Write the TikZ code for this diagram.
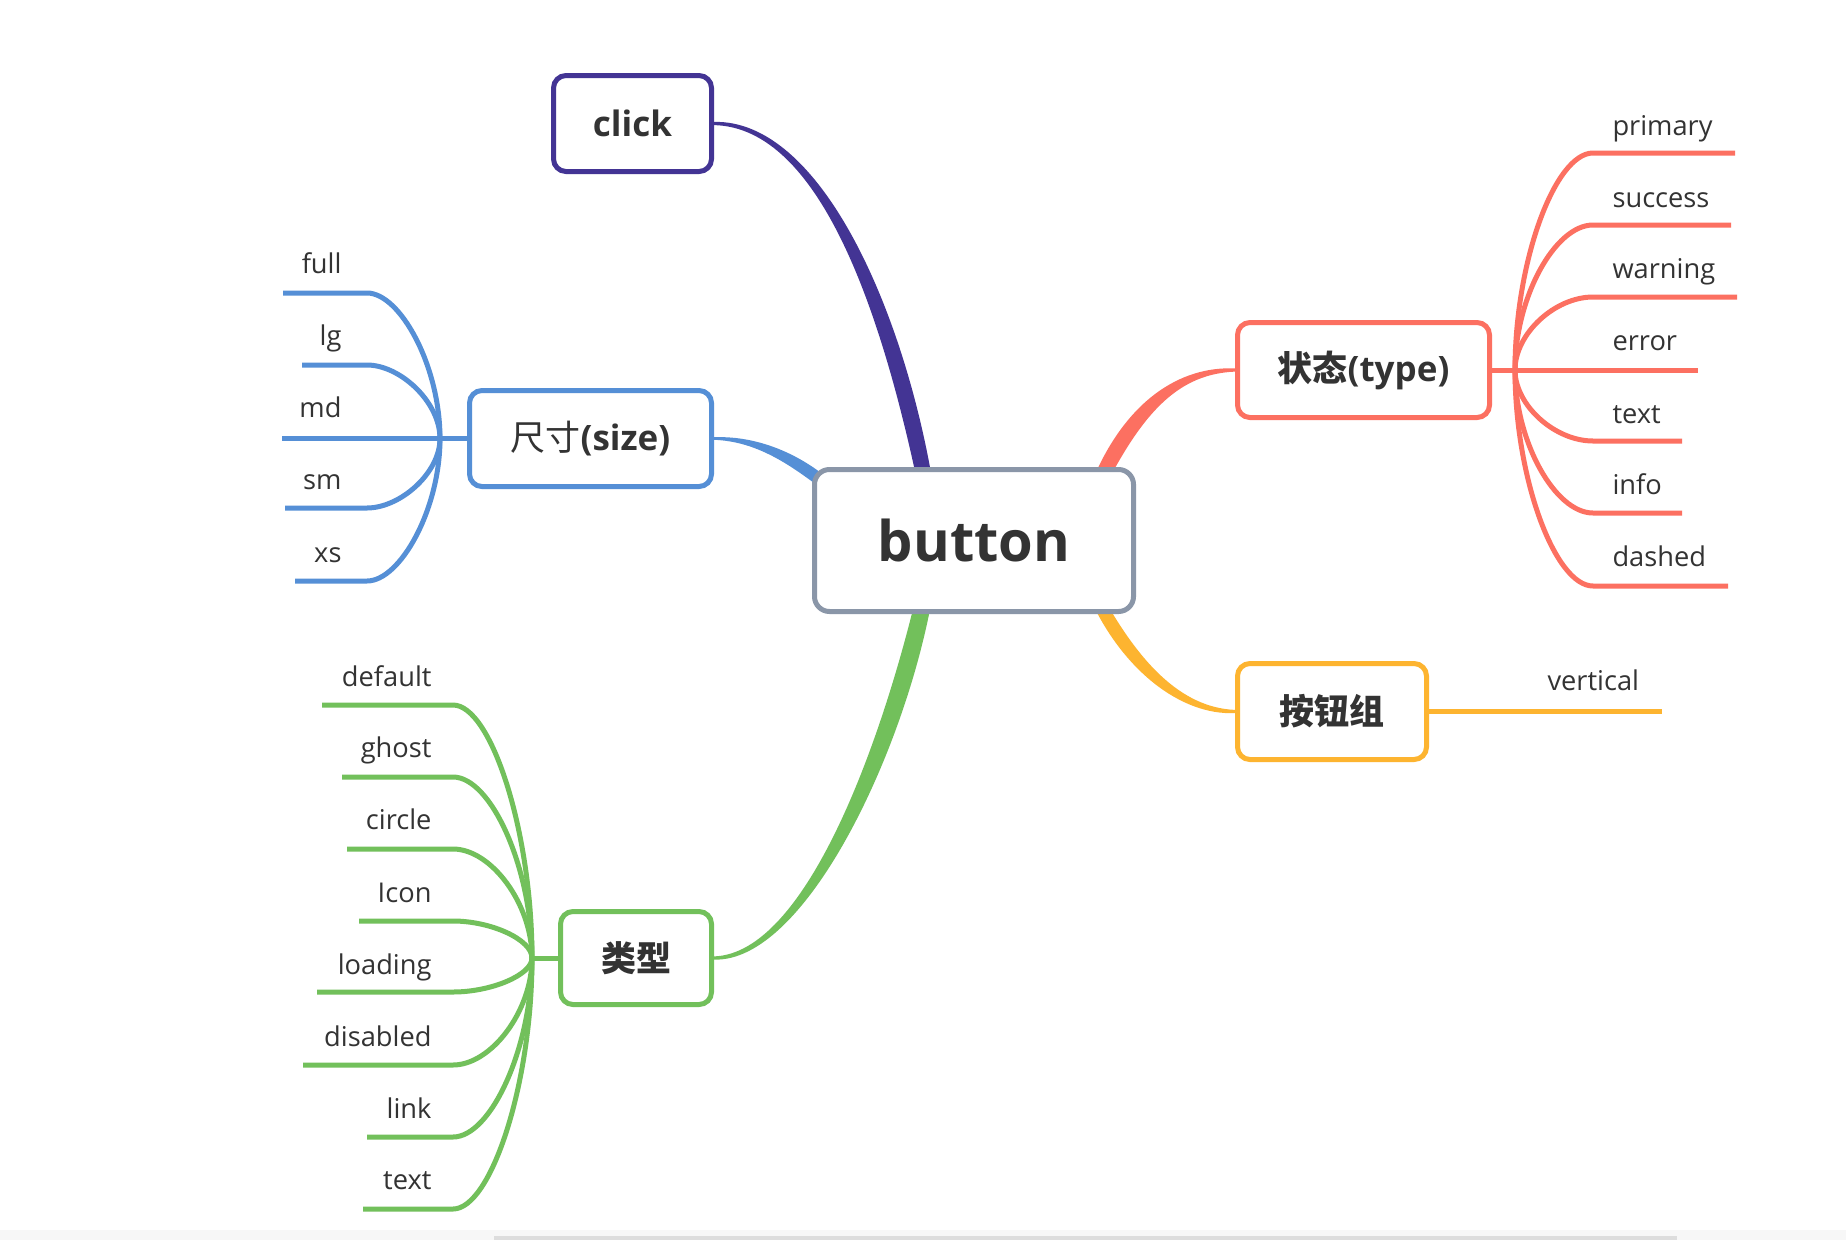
\documentclass[tikz,border=0pt]{standalone}
\usepackage{fontspec}
\setmainfont{Open Sans}
\newfontfamily\cjk{Noto Sans CJK SC}
\usetikzlibrary{calc}
\definecolor{cpurple}{RGB}{67,52,148}
\definecolor{cblue}{RGB}{85,143,214}
\definecolor{cred}{RGB}{252,112,97}
\definecolor{corange}{RGB}{253,180,48}
\definecolor{cgreen}{RGB}{114,192,91}
\definecolor{cgray}{RGB}{138,150,168}
\definecolor{txt}{RGB}{51,51,51}
\definecolor{strip}{RGB}{247,247,247}
\definecolor{stripline}{RGB}{221,221,221}
\pgfdeclarelayer{back}
\pgfsetlayers{back,main}
\tikzset{
  topic/.style={draw, line width=2pt, rounded corners=5pt, fill=white, inner sep=0pt,
    text=txt, font=\fontsize{14}{16}\selectfont\bfseries, align=center},
  leaf/.style={inner sep=0pt, text=txt, font=\fontsize{10.9}{12}\selectfont},
  twig/.style={line width=2pt},
}
\begin{document}
\begin{tikzpicture}[x=0.4pt,y=-0.4pt]
\useasboundingbox (0,0) rectangle (1846,1240);
\begin{pgfonlayer}{back}
\fill[white] (0,0) rectangle (1846,1240);
\fill[strip] (0,1230) rectangle (1846,1240);
\fill[stripline] (494,1236) rectangle (1677,1240);
\end{pgfonlayer}

% topics
\node[topic, draw=cgray, rounded corners=6pt, minimum width=127.6pt, minimum height=56.8pt,
      font=\fontsize{22.4}{26}\selectfont\bfseries] (button) at (974,540.5) {button};
\node[topic, draw=cpurple, minimum width=63.2pt, minimum height=38.4pt] (click) at (632.5,123.5) {click};
\node[topic, draw=cblue, minimum width=96.8pt, minimum height=38.4pt] (size) at (590.5,438.5) {{\cjk\mdseries 尺寸}(size)};
\node[topic, draw=cred, minimum width=100.8pt, minimum height=38pt] (type) at (1363.5,370) {{\cjk 状态}(type)};
\node[topic, draw=corange, minimum width=75.6pt, minimum height=38.4pt] (group) at (1332,711.5) {{\cjk 按钮组}};
\node[topic, draw=cgreen, minimum width=60.4pt, minimum height=37.2pt] (kind) at (636,958) {{\cjk 类型}};

\begin{pgfonlayer}{back}
% tapered main branches
\fill[cpurple] ($(click.east)+(0,1.6)$) .. controls (820,127.5) and (881.2,312.07) .. (917.63,483.41)
  -- (932.37,480.59) .. controls (902.8,307.93) and (820,119.5) .. ($(click.east)+(0,-1.6)$) -- cycle;
\fill[cblue] ($(size.east)+(0,1.3)$) .. controls (760,441.5) and (794.79,468.07) .. (831.42,496.17)
  -- (838.58,487.83) .. controls (805.21,455.93) and (760,435.5) .. ($(size.east)+(0,-1.3)$) -- cycle;
\fill[cred] ($(type.west)+(0,-1.6)$) .. controls (1180,366) and (1125.48,400.59) .. (1091.65,482.06)
  -- (1104.35,487.94) .. controls (1144.52,409.41) and (1180,374) .. ($(type.west)+(0,1.6)$) -- cycle;
\fill[corange] ($(group.west)+(0,-1.6)$) .. controls (1180,707.5) and (1138.05,660.98) .. (1100.37,592.32)
  -- (1089.63,597.68) .. controls (1121.95,669.02) and (1180,715.5) .. ($(group.west)+(0,1.6)$) -- cycle;
\fill[cgreen] ($(kind.east)+(0,1.6)$) .. controls (805,962.5) and (904.24,752.58) .. (931.83,599.65)
  -- (916.17,596.35) .. controls (879.76,747.43) and (805,953.5) .. ($(kind.east)+(0,-1.6)$) -- cycle;

% size group (blue)
\coordinate (bJ) at (440,438.5);
\draw[twig,cblue] (size.west) -- (bJ);
\coordinate (bfull) at (283,293);
\coordinate (blg) at (302,365);
\coordinate (bmd) at (282,438.5);
\coordinate (bsm) at (285,508);
\coordinate (bxs) at (295,581);
\draw[twig,cblue] (bJ) .. controls (440,365.75) and (400,293) .. (367,293) -- (bfull);
\draw[twig,cblue] (bJ) .. controls (440,401.75) and (400,365) .. (367,365) -- (blg);
\draw[twig,cblue] (bJ) -- (bmd);
\draw[twig,cblue] (bJ) .. controls (440,473.25) and (400,508) .. (367,508) -- (bsm);
\draw[twig,cblue] (bJ) .. controls (440,509.75) and (400,581) .. (367,581) -- (bxs);

% type group (red)
\coordinate (rJ) at (1515,370);
\draw[twig,cred] (type.east) -- (rJ);
\coordinate (rprimary) at (1735,153);
\coordinate (rsuccess) at (1731,225);
\coordinate (rwarning) at (1737,297);
\coordinate (rerror) at (1698,370);
\coordinate (rtext) at (1682,441);
\coordinate (rinfo) at (1682,513);
\coordinate (rdashed) at (1728,586);
\draw[twig,cred] (rJ) .. controls (1515,261.5) and (1555,153) .. (1593,153) -- (rprimary);
\draw[twig,cred] (rJ) .. controls (1515,297.5) and (1555,225) .. (1593,225) -- (rsuccess);
\draw[twig,cred] (rJ) .. controls (1515,333.5) and (1555,297) .. (1593,297) -- (rwarning);
\draw[twig,cred] (rJ) -- (rerror);
\draw[twig,cred] (rJ) .. controls (1515,405.5) and (1555,441) .. (1593,441) -- (rtext);
\draw[twig,cred] (rJ) .. controls (1515,441.5) and (1555,513) .. (1593,513) -- (rinfo);
\draw[twig,cred] (rJ) .. controls (1515,478) and (1555,586) .. (1593,586) -- (rdashed);

% group (orange)
\coordinate (overt) at (1662,711.5);
\draw[twig,corange] (group.east) -- (overt);

% kind group (green)
\coordinate (gJ) at (532,958);
\draw[twig,cgreen] (kind.west) -- (gJ);
\coordinate (gdefault) at (322,705);
\coordinate (gghost) at (342,777);
\coordinate (gcircle) at (347,849);
\coordinate (gicon) at (359,921);
\coordinate (gloading) at (317,992);
\coordinate (gdisabled) at (303,1065);
\coordinate (glink) at (367,1137);
\coordinate (gtext) at (363,1209);
\draw[twig,cgreen] (gJ) .. controls (532,831.5) and (491,705) .. (453,705) -- (gdefault);
\draw[twig,cgreen] (gJ) .. controls (532,867.5) and (491,777) .. (453,777) -- (gghost);
\draw[twig,cgreen] (gJ) .. controls (532,903.5) and (491,849) .. (453,849) -- (gcircle);
\draw[twig,cgreen] (gJ) .. controls (532,939.5) and (491,921) .. (453,921) -- (gicon);
\draw[twig,cgreen] (gJ) .. controls (532,975) and (491,992) .. (453,992) -- (gloading);
\draw[twig,cgreen] (gJ) .. controls (532,1011.5) and (491,1065) .. (453,1065) -- (gdisabled);
\draw[twig,cgreen] (gJ) .. controls (532,1047.5) and (491,1137) .. (453,1137) -- (glink);
\draw[twig,cgreen] (gJ) .. controls (532,1083.5) and (491,1209) .. (453,1209) -- (gtext);
\end{pgfonlayer}

% leaf labels
\node[leaf, anchor=base east] (lfull) at (342,273) {full};
\node[leaf, anchor=base east] (llg) at (342,345) {lg};
\node[leaf, anchor=base east] (lmd) at (342,417) {md};
\node[leaf, anchor=base east] (lsm) at (342,489) {sm};
\node[leaf, anchor=base east] (lxs) at (342,562) {xs};

\node[leaf, anchor=base west] (lprimary) at (1612,135) {primary};
\node[leaf, anchor=base west] (lsuccess) at (1612,207) {success};
\node[leaf, anchor=base west] (lwarning) at (1612,278) {warning};
\node[leaf, anchor=base west] (lerror) at (1612,350) {error};
\node[leaf, anchor=base west] (ltext) at (1612,423) {text};
\node[leaf, anchor=base west] (linfo) at (1612,494) {info};
\node[leaf, anchor=base west] (ldashed) at (1612,566) {dashed};

\node[leaf, anchor=base west] (lvertical) at (1547,690) {vertical};

\node[leaf, anchor=base east] (ldefault) at (432,686) {default};
\node[leaf, anchor=base east] (lghost) at (432,757) {ghost};
\node[leaf, anchor=base east] (lcircle) at (432,829) {circle};
\node[leaf, anchor=base east] (licon) at (432,902) {Icon};
\node[leaf, anchor=base east] (lloading) at (432,974) {loading};
\node[leaf, anchor=base east] (ldisabled) at (432,1046) {disabled};
\node[leaf, anchor=base east] (llink) at (432,1118) {link};
\node[leaf, anchor=base east] (ltext2) at (432,1189) {text};
\end{tikzpicture}
\end{document}
